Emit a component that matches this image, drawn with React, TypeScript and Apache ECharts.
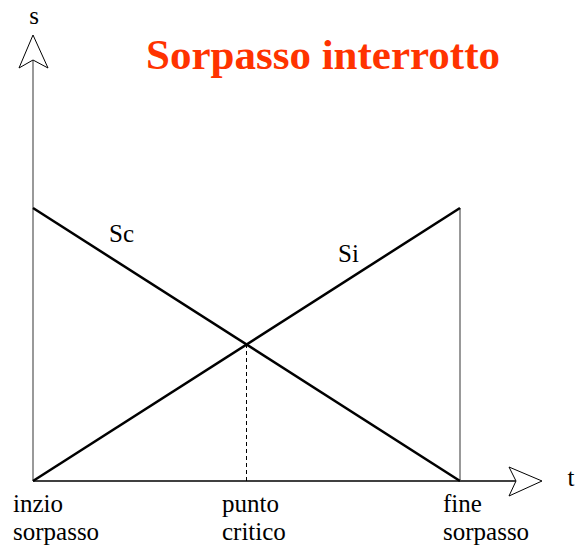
import React, { useEffect, useRef } from "react";
import * as echarts from "echarts";

const TITLE = "Sorpasso interrotto";
const AXIS_Y_LABEL = "s";
const AXIS_X_LABEL = "t";
// time positions (fraction of manoeuvre) and their labels
const TICK_X = [0, 0.5, 1];
const TICK_LABELS = ["inzio\nsorpasso", "punto\ncritico", "fine\nsorpasso"];
// series: Sc decreasing, Si increasing
const SC_X = [0, 1];
const SC_Y = [1, 0];
const SI_X = [0, 1];
const SI_Y = [0, 1];
const SERIES_NAMES = ["Sc", "Si"];

const FONT = "Liberation Serif";

function txt(x: number, y: number, text: string, size: number, align: string, extra: any = {}) {
  return {
    type: "text",
    x,
    y,
    style: {
      text,
      fill: "#000",
      fontFamily: FONT,
      fontSize: size,
      fontWeight: "normal",
      align,
      verticalAlign: "middle",
      ...extra,
    },
  };
}

export default function App() {
  const ref = useRef<HTMLDivElement>(null);
  useEffect(() => {
    if (!ref.current) return;
    const chart = echarts.init(ref.current, null, { renderer: "svg" });
    const sc = SC_X.map((x, i) => [x, SC_Y[i]]);
    const si = SI_X.map((x, i) => [x, SI_Y[i]]);
    const crossX = TICK_X[1];
    const crossY = SC_Y[0] + (SC_Y[1] - SC_Y[0]) * crossX;
    chart.setOption({
      animation: false,
      grid: { left: 33, right: 118, top: 208, bottom: 66 },
      xAxis: { type: "value", min: 0, max: 1, show: false },
      yAxis: { type: "value", min: 0, max: 1, show: false },
      series: [
        {
          type: "line",
          name: "end",
          data: [[TICK_X[2], 0], [TICK_X[2], SI_Y[1]]],
          symbol: "none",
          lineStyle: { color: "#777", width: 1.5 },
          z: 1,
        },
        {
          type: "line",
          name: "critico",
          data: [[crossX, 0], [crossX, crossY]],
          symbol: "none",
          lineStyle: { color: "#000", width: 1, type: [4, 3] },
          z: 1,
        },
        {
          type: "line",
          name: SERIES_NAMES[0],
          data: sc,
          symbol: "none",
          lineStyle: { color: "#000", width: 2.5 },
          z: 3,
        },
        {
          type: "line",
          name: SERIES_NAMES[1],
          data: si,
          symbol: "none",
          lineStyle: { color: "#000", width: 2.5 },
          z: 3,
        },
      ],
    });

    const o = chart.convertToPixel({ gridIndex: 0 }, [0, 0]) as number[];
    const ox = o[0];
    const oy = o[1];
    const graphic: any[] = [
      {
        type: "line",
        shape: { x1: ox, y1: oy, x2: ox, y2: 60 },
        style: { stroke: "#555", lineWidth: 1.2 },
        z: 0,
      },
      {
        type: "line",
        shape: { x1: ox, y1: oy, x2: 516, y2: oy },
        style: { stroke: "#000", lineWidth: 1.5 },
        z: 0,
      },
      {
        type: "polygon",
        shape: { points: [[ox, 35], [ox + 15, 68], [ox, 60], [ox - 14, 68]] },
        style: { fill: "#fff", stroke: "#000", lineWidth: 1 },
      },
      {
        type: "polygon",
        shape: { points: [[542, oy], [509, oy - 14], [516, oy], [509, oy + 15]] },
        style: { fill: "#fff", stroke: "#000", lineWidth: 1 },
      },
      txt(323, 54, TITLE, 43, "center", { fill: "#ff3300", fontWeight: "bold" }),
      txt(ox + 1, 15, AXIS_Y_LABEL, 25, "center"),
      txt(571, 477, AXIS_X_LABEL, 25, "center"),
      txt(109, 233.5, SERIES_NAMES[0], 25, "left"),
      txt(338, 253.5, SERIES_NAMES[1], 25, "left"),
    ];
    const offsets = [-20, -24.5, -17];
    TICK_X.forEach((tx, i) => {
      const p = chart.convertToPixel({ gridIndex: 0 }, [tx, 0]) as number[];
      graphic.push(txt(p[0] + offsets[i], 517.5, TICK_LABELS[i], 25, "left", { lineHeight: 28 }));
    });
    chart.setOption({ graphic });
    return () => chart.dispose();
  }, []);
  return <div ref={ref} style={{ width: 578, height: 547, position: "absolute", left: 0, top: 0 }} />;
}
